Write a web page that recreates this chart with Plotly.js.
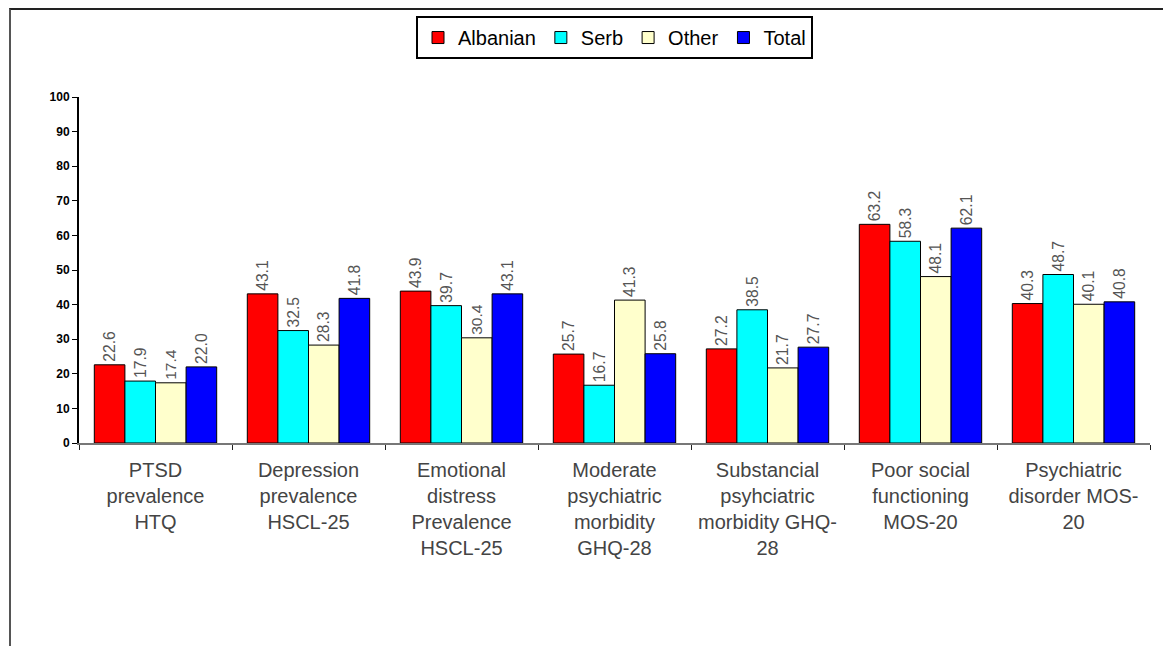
<!DOCTYPE html>
<html><head><meta charset="utf-8">
<script src="https://cdn.plot.ly/plotly-3.0.1.min.js"></script>
<style>
html,body{margin:0;padding:0;background:#fff;}
#wrap{position:relative;width:1163px;height:646px;overflow:hidden;}
#frame{position:absolute;left:9px;top:8px;width:1200px;height:700px;border-top:2px solid #222;border-left:2px solid #555;pointer-events:none;}
#chart{position:absolute;left:0;top:0;width:1163px;height:646px;}
</style></head>
<body><div id="wrap"><div id="chart"></div><div id="frame"></div></div>
<script>
const categories = [
  "PTSD<br>prevalence<br>HTQ",
  "Depression<br>prevalence<br>HSCL-25",
  "Emotional<br>distress<br>Prevalence<br>HSCL-25",
  "Moderate<br>psychiatric<br>morbidity<br>GHQ-28",
  "Substancial<br>psyhciatric<br>morbidity GHQ-<br>28",
  "Poor social<br>functioning<br>MOS-20",
  "Psychiatric<br>disorder MOS-<br>20"
];
const albanian = [22.6, 43.1, 43.9, 25.7, 27.2, 63.2, 40.3];
const serb     = [17.9, 32.5, 39.7, 16.7, 38.5, 58.3, 48.7];
const other    = [17.4, 28.3, 30.4, 41.3, 21.7, 48.1, 40.1];
const total    = [22.0, 41.8, 43.1, 25.8, 27.7, 62.1, 40.8];
const seriesNames = ["Albanian", "Serb", "Other", "Total"];
const colors = ["#FF0000", "#00FFFF", "#FFFFCC", "#0000FF"];
const values = [albanian, serb, other, total];

const FONT = "Liberation Sans, Arial, sans-serif";

const traces = values.map((v, i) => ({
  type: "bar",
  name: seriesNames[i],
  x: categories,
  y: v,
  marker: {color: colors[i], line: {color: "#000", width: 1}},
  text: v.map(d => d.toFixed(1)),
  textposition: "outside",
  textangle: -90,
  cliponaxis: false,
  textfont: {family: FONT, size: 19, color: "#555"},
  hoverinfo: "skip"
}));

const layout = {
  width: 1163, height: 646,
  margin: {l: 79, r: 13, t: 97, b: 203},
  paper_bgcolor: "#fff", plot_bgcolor: "#fff",
  barmode: "group",
  bargap: 0.2, bargroupgap: 0,
  showlegend: true,
  legend: {
    orientation: "h", x: 0.5, xanchor: "center", y: 1.234, yanchor: "top",
    bordercolor: "#000", borderwidth: 2, bgcolor: "#fff",
    font: {family: FONT, size: 20, color: "#000"},
    itemwidth: 30, tracegroupgap: 0
  },
  xaxis: {
    type: "category",
    showline: true, linecolor: "#777", linewidth: 2,
    ticks: "outside", tickson: "boundaries", ticklen: 5, tickcolor: "#222", tickwidth: 1,
    ticklabelstandoff: 8,
    tickfont: {family: FONT, size: 20, color: "#444"},
    showgrid: false, zeroline: false
  },
  yaxis: {
    range: [0, 100], dtick: 10, tick0: 0,
    showline: true, linecolor: "#000", linewidth: 2,
    ticks: "outside", ticklen: 5, tickcolor: "#000",
    tickfont: {family: FONT, size: 12, color: "#000", weight: "bold"},
    showgrid: false, zeroline: false
  }
};

Plotly.newPlot("chart", traces, layout, {displayModeBar: false, staticPlot: true});
</script></body></html>
